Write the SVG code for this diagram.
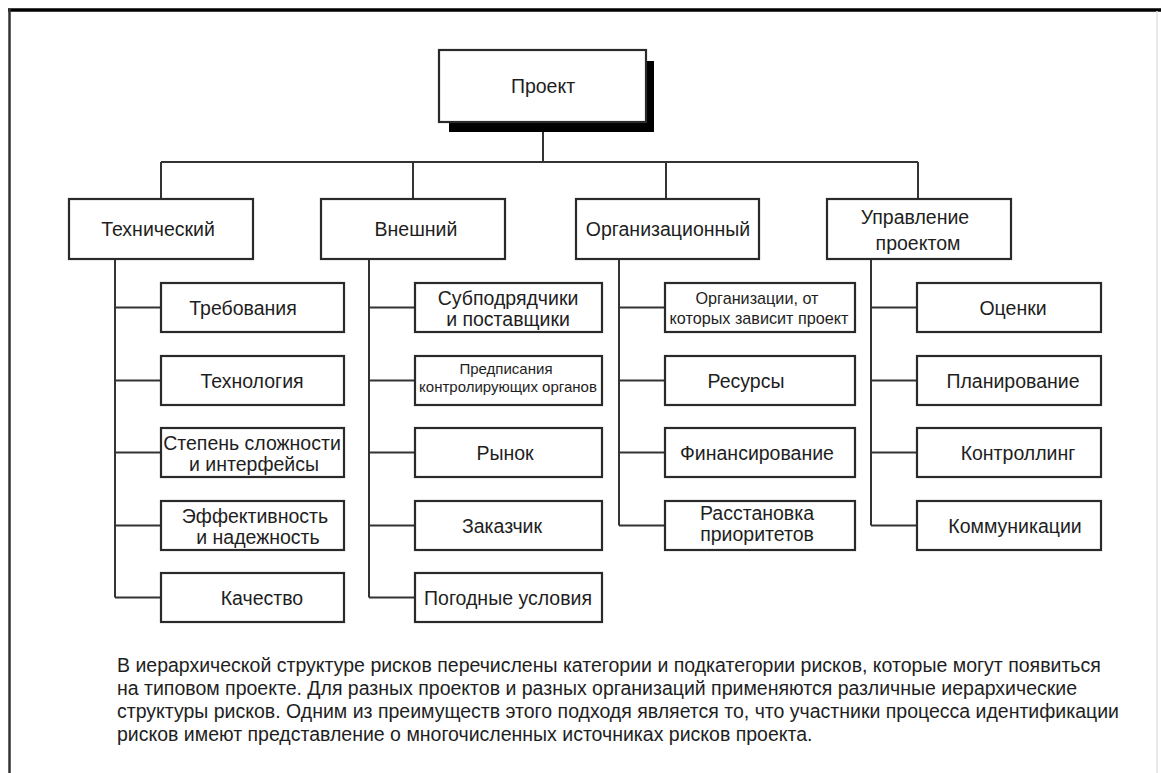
<svg xmlns="http://www.w3.org/2000/svg" width="1161" height="773" viewBox="0 0 1161 773">
<style>
.box{fill:#fff;stroke:#2a2a2a;stroke-width:2.2}
.ln{stroke:#333;stroke-width:2;fill:none}
text{font-family:"Liberation Sans",Arial,sans-serif;fill:#1e1e1e;text-anchor:middle}
.t{font-size:19.5px}
.s{font-size:15px}
.s2{font-size:16.2px}
.body{font-size:19.5px;text-anchor:start}
</style>
<rect x="0" y="0" width="1161" height="773" fill="#fff"/>
<g id="frame">
<line x1="8" y1="10" x2="1161" y2="10" stroke="#000" stroke-width="3.5"/>
<line x1="9.5" y1="9" x2="9.5" y2="773" stroke="#333" stroke-width="2.5"/>
<line x1="1157" y1="11" x2="1157" y2="773" stroke="#e2e2e2" stroke-width="1.5"/>
</g>
<g id="connectors">
<path class="ln" d="M543 132V162M161 162H918M161 162V199M413 162V199M666 162V199M918 162V199"/>
<path class="ln" d="M115 259V597.5M115 307.5H161M115 380.5H161M115 452.5H161M115 525.5H161M115 597.5H161"/>
<path class="ln" d="M369 259V597.5M369 307.5H415M369 380.5H415M369 452.5H415M369 525.5H415M369 597.5H415"/>
<path class="ln" d="M619 259V525.5M619 307.5H665M619 380.5H665M619 452.5H665M619 525.5H665"/>
<path class="ln" d="M871 259V525.5M871 307.5H917M871 380.5H917M871 452.5H917M871 525.5H917"/>
</g>
<g id="project">
<rect x="449" y="61" width="205" height="71" fill="#000"/>
<rect class="box" x="439" y="50" width="207" height="72"/>
<text class="t" x="543" y="93">Проект</text>
</g>
<g id="cat-tech"><rect class="box" x="69" y="199" width="184" height="60"/><text class="t" x="158" y="236">Технический</text></g>
<g id="cat-ext"><rect class="box" x="321" y="199" width="184" height="60"/><text class="t" x="416" y="236">Внешний</text></g>
<g id="cat-org"><rect class="box" x="576" y="199" width="183" height="60"/><text class="t" x="668" y="236">Организационный</text></g>
<g id="cat-pm"><rect class="box" x="827" y="199" width="184" height="60"/><text class="t" x="915" y="224">Управление</text><text class="t" x="918" y="250">проектом</text></g>

<g id="t1"><rect class="box" x="161" y="283" width="183" height="49"/><text class="t" x="243" y="314.5">Требования</text></g>
<g id="t2"><rect class="box" x="161" y="356" width="183" height="49"/><text class="t" x="252" y="387.5">Технология</text></g>
<g id="t3"><rect class="box" x="161" y="428" width="183" height="49"/><text class="t" x="252" y="450">Степень сложности</text><text class="t" x="254" y="471">и интерфейсы</text></g>
<g id="t4"><rect class="box" x="161" y="501" width="183" height="49"/><text class="t" x="255" y="523">Эффективность</text><text class="t" x="258" y="544">и надежность</text></g>
<g id="t5"><rect class="box" x="161" y="573" width="183" height="49"/><text class="t" x="262" y="604.5">Качество</text></g>

<g id="e1"><rect class="box" x="415" y="283" width="187" height="49"/><text class="t" x="508" y="305">Субподрядчики</text><text class="t" x="508" y="326">и поставщики</text></g>
<g id="e2"><rect class="box" x="415" y="356" width="187" height="49"/><text class="s" x="506" y="374">Предписания</text><text class="s" x="508" y="392">контролирующих органов</text></g>
<g id="e3"><rect class="box" x="415" y="428" width="187" height="49"/><text class="t" x="505" y="459.5">Рынок</text></g>
<g id="e4"><rect class="box" x="415" y="501" width="187" height="49"/><text class="t" x="502" y="532.5">Заказчик</text></g>
<g id="e5"><rect class="box" x="415" y="573" width="187" height="49"/><text class="t" x="508" y="604.5">Погодные условия</text></g>

<g id="o1"><rect class="box" x="665" y="283" width="190" height="49"/><text class="s2" x="757" y="304">Организации, от</text><text class="s2" x="759" y="324">которых зависит проект</text></g>
<g id="o2"><rect class="box" x="665" y="356" width="190" height="49"/><text class="t" x="746" y="387.5">Ресурсы</text></g>
<g id="o3"><rect class="box" x="665" y="428" width="190" height="49"/><text class="t" x="757" y="459.5">Финансирование</text></g>
<g id="o4"><rect class="box" x="665" y="501" width="190" height="49"/><text class="t" x="757" y="520">Расстановка</text><text class="t" x="757" y="541">приоритетов</text></g>

<g id="p1"><rect class="box" x="917" y="283" width="184" height="49"/><text class="t" x="1013" y="314.5">Оценки</text></g>
<g id="p2"><rect class="box" x="917" y="356" width="184" height="49"/><text class="t" x="1013" y="387.5">Планирование</text></g>
<g id="p3"><rect class="box" x="917" y="428" width="184" height="49"/><text class="t" x="1018" y="459.5">Контроллинг</text></g>
<g id="p4"><rect class="box" x="917" y="501" width="184" height="49"/><text class="t" x="1015" y="532.5">Коммуникации</text></g>

<g id="caption">
<text class="body" x="117" y="672">В иерархической структуре рисков перечислены категории и подкатегории рисков, которые могут появиться</text>
<text class="body" x="117" y="695">на типовом проекте. Для разных проектов и разных организаций применяются различные иерархические</text>
<text class="body" x="117" y="718">структуры рисков. Одним из преимуществ этого подходя является то, что участники процесса идентификации</text>
<text class="body" x="117" y="741">рисков имеют представление о многочисленных источниках рисков проекта.</text>
</g>
</svg>
